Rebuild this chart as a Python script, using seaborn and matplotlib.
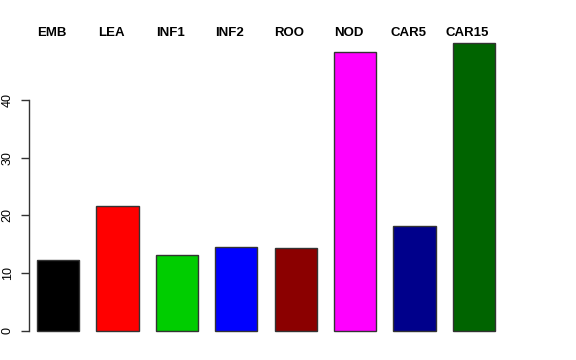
import matplotlib
matplotlib.use("Agg")
import matplotlib.pyplot as plt
import matplotlib.transforms as mtransforms
import pandas as pd
import seaborn as sns

# values
tissues = ["EMB", "LEA", "INF1", "INF2", "ROO", "NOD", "CAR5", "CAR15"]
values = [12.3, 21.6, 13.2, 14.5, 14.4, 48.3, 18.2, 49.9]
colors = ["#000000", "#FF0000", "#00CD00", "#0000FF", "#8B0000", "#FF00FF", "#00008B", "#006400"]
yticks = [0, 10, 20, 30, 40]

sns.set_style("white")
plt.rcParams["font.family"] = ["Liberation Sans", "DejaVu Sans"]
plt.rcParams["text.color"] = "black"
plt.rcParams["xtick.color"] = "black"
plt.rcParams["ytick.color"] = "black"

df = pd.DataFrame({"tissue": tissues, "value": values})

W, H = 576, 360
fig = plt.figure(figsize=(W / 100, H / 100), dpi=100)
# axes in pixel terms: x 29..545, y 40..340 (from top)
ax = fig.add_axes([29 / W, (H - 340) / H, (545 - 29) / W, 300 / H])

sns.barplot(data=df, x="tissue", y="value", hue="tissue", palette=colors,
            legend=False, width=0.71, edgecolor="#333333", linewidth=1.0,
            saturation=1, ax=ax)

ax.set_xlim(-0.489, 8.196)
ax.set_ylim(-1.56, 50.39)
ax.set_xlabel("")
ax.set_ylabel("")

for side in ["top", "right", "bottom"]:
    ax.spines[side].set_visible(False)
ax.spines["left"].set_bounds(0, 40)
ax.spines["left"].set_color("#333333")
ax.spines["left"].set_linewidth(1.0)

ax.set_yticks(yticks)
ax.set_yticklabels([str(t) for t in yticks], rotation=90, va="center", fontsize=9)
ax.tick_params(axis="y", direction="out", length=6, width=1.0, color="#333333",
               labelcolor="black", left=True, pad=5)

# names sit above the bars, nudged a little left as in the original
ax.xaxis.set_ticks_position("top")
ax.tick_params(axis="x", length=0, pad=1, labelcolor="black")
shift = mtransforms.ScaledTranslation(-6.5 / 100, 0, fig.dpi_scale_trans)
for lbl in ax.get_xticklabels():
    lbl.set_fontweight("bold")
    lbl.set_fontsize(9.5)
    lbl.set_transform(lbl.get_transform() + shift)

fig.savefig("out.png", dpi=100)
